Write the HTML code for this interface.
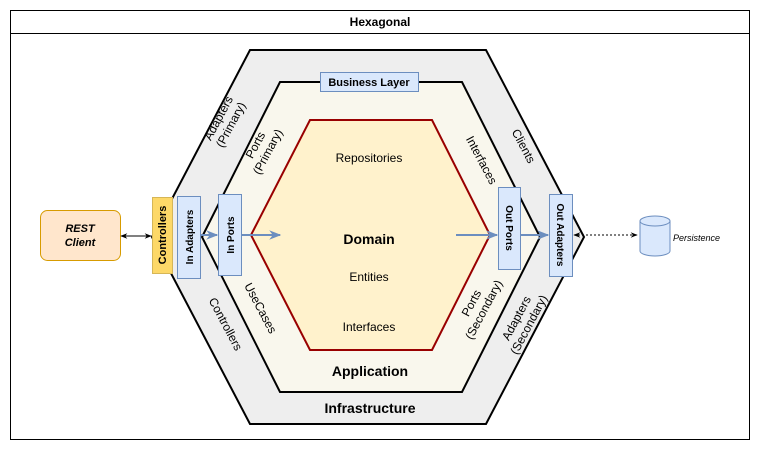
<!DOCTYPE html>
<html><head><meta charset="utf-8"><style>body{margin:0;background:#fff}svg{display:block}text{font-family:"Liberation Sans",sans-serif}</style></head><body>
<svg width="761" height="451" viewBox="0 0 761 451" xmlns="http://www.w3.org/2000/svg">
<defs>
<marker id="bk" viewBox="0 0 10 10" refX="9" refY="5" markerWidth="7" markerHeight="7" orient="auto-start-reverse"><path d="M0,1 L10,5 L0,9 L3,5z" fill="#000"/></marker>
<marker id="bl" viewBox="0 0 10 10" refX="9" refY="5" markerWidth="6" markerHeight="6" orient="auto"><path d="M0,1 L10,5 L0,9 L3,5z" fill="#6c8ebf"/></marker>
</defs>
<rect x="10.5" y="10.5" width="739" height="429" fill="#fff" stroke="#000"/>
<line x1="10" y1="33.5" x2="750" y2="33.5" stroke="#000"/>
<text x="380" y="26" font-size="12" font-weight="bold" text-anchor="middle">Hexagonal</text>
<polygon points="250,50 486,50 584,237 486,424 250,424 152,237" fill="#eeeeee" stroke="#000" stroke-width="2"/>
<polygon points="280,82 462,82 540,237 462,392 280,392 202,237" fill="#f9f7ed" stroke="#000" stroke-width="2"/>
<polygon points="310,120 432,120 490,235 432,350 310,350 251,235" fill="#fff2cc" stroke="#990000" stroke-width="2"/>
<text x="370" y="413" font-size="14" font-weight="bold" text-anchor="middle">Infrastructure</text>
<text x="370" y="376" font-size="14" font-weight="bold" text-anchor="middle">Application</text>
<text x="369" y="244" font-size="14" font-weight="bold" text-anchor="middle">Domain</text>
<text x="369" y="162" font-size="12" text-anchor="middle">Repositories</text>
<text x="369" y="281" font-size="12" text-anchor="middle">Entities</text>
<text x="369" y="331" font-size="12" text-anchor="middle">Interfaces</text>
<rect x="320.5" y="72.5" width="98" height="19" fill="#dae8fc" stroke="#6c8ebf"/>
<text x="369" y="86" font-size="11" font-weight="bold" text-anchor="middle">Business Layer</text>
<g font-size="12" text-anchor="middle">
<text transform="translate(222,120) rotate(-62)"><tspan x="0" y="0">Adapters</tspan><tspan x="0" y="14">(Primary)</tspan></text>
<text transform="translate(259,147) rotate(-62)"><tspan x="0" y="0">Ports</tspan><tspan x="0" y="14">(Primary)</tspan></text>
<text transform="translate(520,148) rotate(62)">Clients</text>
<text transform="translate(478,162) rotate(62)">Interfaces</text>
<text transform="translate(222,326) rotate(62)">Controllers</text>
<text transform="translate(257,310) rotate(62)">UseCases</text>
<text transform="translate(475,305) rotate(-62)"><tspan x="0" y="0">Ports</tspan><tspan x="0" y="14">(Secondary)</tspan></text>
<text transform="translate(520,320) rotate(-62)"><tspan x="0" y="0">Adapters</tspan><tspan x="0" y="14">(Secondary)</tspan></text>
</g>
<rect x="40.5" y="210.5" width="80" height="50" rx="7" fill="#ffe6cc" stroke="#d79b00"/>
<text x="80" y="232" font-size="11" font-weight="bold" font-style="italic" text-anchor="middle">REST</text>
<text x="80" y="246" font-size="11" font-weight="bold" font-style="italic" text-anchor="middle">Client</text>
<line x1="121" y1="236" x2="151" y2="236" stroke="#000" marker-start="url(#bk)" marker-end="url(#bk)"/>
<rect x="152.5" y="197.5" width="20" height="76" fill="#fdd868" stroke="#d6b656"/>
<text transform="translate(166,235) rotate(-90)" font-size="11" font-weight="bold" text-anchor="middle">Controllers</text>
<rect x="177.5" y="196.5" width="23" height="82" fill="#dae8fc" stroke="#6c8ebf"/>
<text transform="translate(193,237) rotate(-90)" font-size="10" font-weight="bold" text-anchor="middle">In Adapters</text>
<rect x="218.5" y="194.5" width="23" height="81" fill="#dae8fc" stroke="#6c8ebf"/>
<text transform="translate(234,235) rotate(-90)" font-size="10" font-weight="bold" text-anchor="middle">In Ports</text>
<rect x="498.5" y="187.5" width="22" height="82" fill="#dae8fc" stroke="#6c8ebf"/>
<text transform="translate(506,228) rotate(90)" font-size="10" font-weight="bold" text-anchor="middle">Out Ports</text>
<rect x="549.5" y="194.5" width="23" height="82" fill="#dae8fc" stroke="#6c8ebf"/>
<text transform="translate(557,235) rotate(90)" font-size="10" font-weight="bold" text-anchor="middle">Out Adapters</text>
<g stroke="#6c8ebf" stroke-width="2">
<line x1="201" y1="235" x2="217" y2="235" marker-end="url(#bl)"/>
<line x1="242" y1="235" x2="280" y2="235" marker-end="url(#bl)"/>
<line x1="456" y1="235" x2="497" y2="235" marker-end="url(#bl)"/>
<line x1="521" y1="235" x2="548" y2="235" marker-end="url(#bl)"/>
</g>
<line x1="574" y1="235" x2="637" y2="235" stroke="#000" stroke-dasharray="2,2" marker-start="url(#bk)" marker-end="url(#bk)"/>
<path d="M640,221 L640,251 A15,5 0 0 0 670,251 L670,221" fill="#dae8fc" stroke="#6c8ebf"/>
<ellipse cx="655" cy="221" rx="15" ry="5" fill="#dae8fc" stroke="#6c8ebf"/>
<text x="673" y="241" font-size="9" font-style="italic">Persistence</text>
</svg>
</body></html>
